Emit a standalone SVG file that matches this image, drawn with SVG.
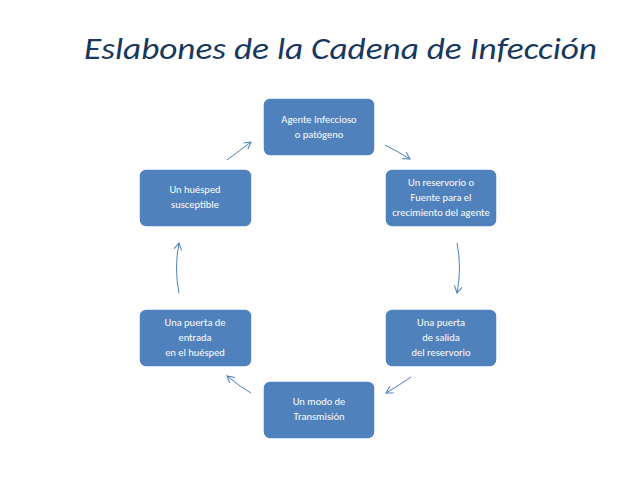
<svg xmlns="http://www.w3.org/2000/svg" width="638" height="479" viewBox="0 0 638 479">
<style>
.n rect{fill:#4f81bd;stroke:#fff;stroke-width:1.5}
.n text{fill:#fff;font-family:Calibri,Carlito,"Liberation Sans",sans-serif;font-size:10.5px;text-anchor:middle}
.c path{fill:none;stroke:#4a7ebb;stroke-width:1;marker-end:url(#a)}
</style>
<defs><marker id="a" markerWidth="8" markerHeight="8" refX="7" refY="4" orient="auto" markerUnits="userSpaceOnUse"><path d="M0,0 L7,4 L0,8" fill="none" stroke="#4a7ebb" stroke-width="1"/></marker></defs>
<rect width="638" height="479" fill="#fff"/>
<text x="84" y="59" font-family="Calibri,Carlito,'Liberation Sans',sans-serif" font-style="italic" font-size="31" fill="#17375e" textLength="513" lengthAdjust="spacingAndGlyphs">Eslabones de la Cadena de Infección</text>
<g id="n1" class="n"><rect x="263" y="98" width="112" height="58" rx="7"/><text x="319" y="123">Agente Infeccioso</text><text x="319" y="138">o patógeno</text></g>
<g id="n2" class="n"><rect x="385" y="169" width="112" height="58" rx="7"/><text x="441" y="186">Un reservorio o</text><text x="441" y="201">Fuente para el</text><text x="441" y="216">crecimiento del agente</text></g>
<g id="n3" class="n"><rect x="385" y="309" width="112" height="58" rx="7"/><text x="441" y="326">Una puerta</text><text x="441" y="341">de salida</text><text x="441" y="356">del reservorio</text></g>
<g id="n4" class="n"><rect x="263" y="381" width="112" height="58" rx="7"/><text x="319" y="405">Un modo de</text><text x="319" y="420">Transmisión</text></g>
<g id="n5" class="n"><rect x="139" y="309" width="113" height="58" rx="7"/><text x="195" y="326">Una puerta de</text><text x="195" y="341">entrada</text><text x="195" y="356">en el huésped</text></g>
<g id="n6" class="n"><rect x="139" y="169" width="113" height="58" rx="7"/><text x="195" y="193">Un huésped</text><text x="195" y="208">susceptible</text></g>
<g id="connectors" class="c">
<path d="M385,145 Q397,151 410,159"/>
<path d="M457,243 Q462,268 457,293"/>
<path d="M411,377 Q398,386 386,393"/>
<path d="M251,393 Q239,386 227,376"/>
<path d="M179,293 Q174,268 179,243"/>
<path d="M227,160 Q239,151 251,142"/>
</g>
</svg>
